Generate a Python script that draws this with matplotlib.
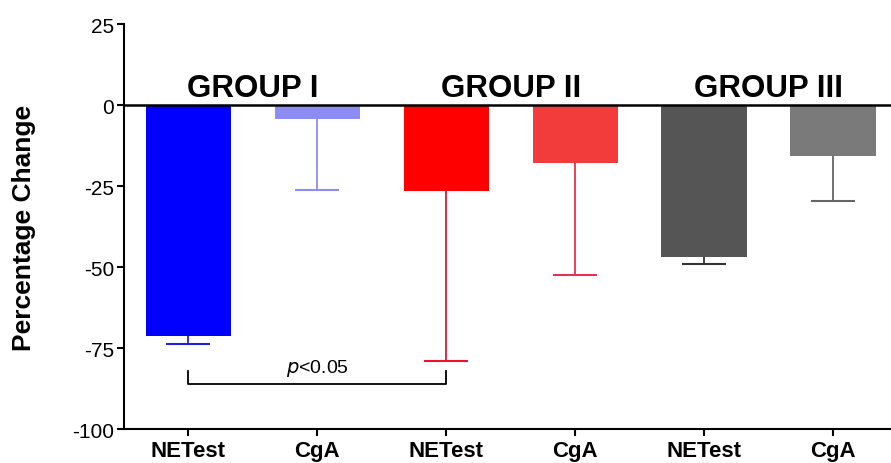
import matplotlib
matplotlib.use("Agg")
import matplotlib.pyplot as plt
import numpy as np

plt.rcParams['font.family'] = ['Liberation Sans', 'DejaVu Sans']

labels = ["NETest", "CgA", "NETest", "CgA", "NETest", "CgA"]
values = [-71.4, -4.3, -26.5, -17.8, -47.0, -15.7]
errors = [2.2, 21.8, 52.5, 34.5, 2.0, 13.8]
colors = ["#0000FF", "#8C8CF2", "#FF0000", "#F23C3C", "#555555", "#7A7A7A"]
err_colors = ["#2020E0", "#8C8CF2", "#F01030", "#E83050", "#333333", "#666666"]
groups = ["GROUP I", "GROUP II", "GROUP III"]
yticks = [25, 0, -25, -50, -75, -100]

fig = plt.figure(figsize=(8.91, 4.64), dpi=100)
ax = fig.add_axes([0.139, 0.073, 0.861, 0.873])

x = np.arange(len(values))
ax.bar(x, values, width=0.66, color=colors, zorder=2)
lows = np.array(values) - np.array(errors)
ax.vlines(x, lows, values, colors=err_colors, lw=1.3, zorder=1)
ax.hlines(lows, x - 0.17, x + 0.17, colors=err_colors, lw=1.5, zorder=1)

ax.axhline(0, color="black", lw=1.8, zorder=3)

for i, g in enumerate(groups):
    ax.text(2 * i + 0.5, 0.6, g, ha="center", va="bottom", fontsize=22.5, fontweight="bold")

# significance bracket
ax.plot([0, 0, 2, 2], [-82, -86, -86, -82], color="black", lw=1.3)
ax.text(1, -84.3, r"$\it{p}$<0.05", ha="center", va="bottom", fontsize=14)

ax.set_xlim(-0.5, 5.45)
ax.set_ylim(-100, 25)
ax.set_yticks(yticks)
ax.set_yticklabels([str(t) for t in yticks])
ax.set_xticks(x)
ax.set_xticklabels(labels, fontsize=16, fontweight="bold")
ax.tick_params(axis="y", labelsize=15, length=5, width=1.5, pad=2)
ax.tick_params(axis="x", length=5, width=1.5, pad=3)
ax.set_ylabel("Percentage Change", fontsize=19, fontweight="bold", labelpad=26)

for s in ["top", "right"]:
    ax.spines[s].set_visible(False)
for s in ["left", "bottom"]:
    ax.spines[s].set_linewidth(1.5)

fig.savefig("out.png", dpi=100)
